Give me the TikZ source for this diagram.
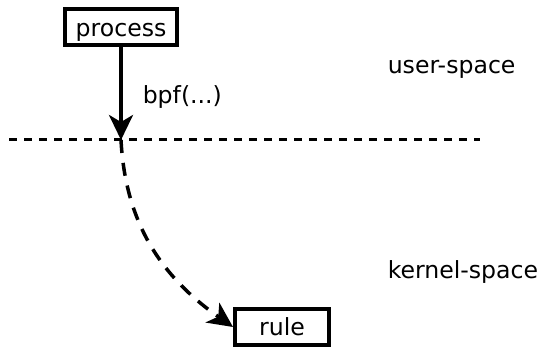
\documentclass[tikz,border=0pt]{standalone}
\usepackage{fontspec}
\setmainfont{DejaVu Sans}
\usetikzlibrary{arrows.meta, positioning}

\tikzset{
    boxnode/.style={draw, line width=2pt, minimum height=18pt, inner sep=0pt, text height=11pt, text depth=2pt, font=\fontsize{11.8}{14}\selectfont},
    spacelabel/.style={anchor=base west, inner sep=0pt, font=\fontsize{11.8}{14}\selectfont},
}

\begin{document}
\begin{tikzpicture}[x=0.5pt, y=-0.5pt, line width=1.75pt, >={Stealth[inset=3.5pt,length=12.5pt,width=12pt]}]
    \useasboundingbox (0, 0) rectangle (542, 347);

    % user-space / kernel-space border
    \coordinate (borderleft) at (9, 140);
    \coordinate (borderright) at (480, 140);
    \coordinate (cross) at (121, 140);
    \draw[line width=1.5pt, dash pattern=on 3.8pt off 3.7pt] (borderleft) -- (borderright);

    \node[boxnode, minimum width=56pt] (process) at (121, 27.5) {process};
    \node[boxnode, minimum width=47pt] (rule) at (282, 327) {rule};

    \node[spacelabel] (userspace) at (386, 74) {user-space};
    \node[spacelabel] (kernelspace) at (386, 279) {kernel-space};

    % syscall
    \draw[->] (process.south) -- (cross);
    \node[spacelabel] (bpfcall) at (141, 104) {bpf(...)};

    % loaded into the kernel
    \draw[->, dash pattern=on 6.5pt off 5pt] (cross) to[out=-87, in=145] (rule.west);
\end{tikzpicture}
\end{document}
